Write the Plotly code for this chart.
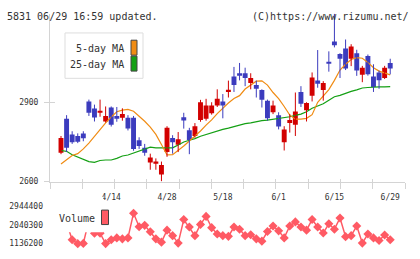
import numpy as np
import plotly.graph_objects as go

# ---------------- data ----------------
open_ = [2709, 2838, 2779, 2773, 2782, 2904, 2877, 2863, 2828, 2881,
         2849, 2842, 2842, 2842, 2757, 2728, 2672, 2670, 2627, 2712,
         2765, 2740, 2844, 2795, 2773, 2834, 2838, 2859, 2889, 2904,
         2940, 2999, 3011, 3011, 2974, 2966, 2947, 2907, 2863, 2852,
         2749, 2822, 2816, 2940, 2871, 2926, 2983, 2947, 3054, 3131,
         3084, 3105, 3066, 3087, 3005, 3076, 2999, 3014, 2993, 3050]
close = [2765, 2728, 2749, 2751, 2764, 2861, 2843, 2867, 2849, 2816,
         2838, 2856, 2801, 2724, 2735, 2709, 2691, 2676, 2663, 2804,
         2749, 2761, 2832, 2758, 2810, 2901, 2889, 2889, 2914, 2889,
         2948, 2966, 3001, 2993, 2993, 2952, 2910, 2840, 2889, 2809,
         2798, 2834, 2866, 2895, 2898, 2995, 2971, 2974, 3048, 3117,
         3066, 3029, 3112, 3021, 3032, 3007, 2959, 2984, 3032, 3029]
high = [2773, 2852, 2791, 2783, 2791, 2911, 2892, 2911, 2885, 2885,
        2883, 2878, 2852, 2849, 2768, 2743, 2706, 2688, 2676, 2810,
        2776, 2788, 2861, 2804, 2822, 2910, 2914, 2901, 2950, 2932,
        2983, 3035, 3050, 3032, 3011, 2983, 2950, 2911, 2907, 2863,
        2810, 2856, 2938, 2962, 2901, 3014, 3099, 2981, 3094, 3237,
        3087, 3139, 3121, 3100, 3039, 3082, 3045, 3021, 3039, 3066]
low = [2704, 2712, 2743, 2746, 2753, 2849, 2828, 2846, 2824, 2809,
       2827, 2831, 2794, 2717, 2724, 2698, 2645, 2645, 2601, 2694,
       2706, 2712, 2801, 2704, 2767, 2827, 2831, 2854, 2883, 2840,
       2919, 2940, 2984, 2962, 2950, 2919, 2881, 2831, 2856, 2798,
       2718, 2786, 2773, 2883, 2828, 2904, 2956, 2907, 3017, 3109,
       2993, 3023, 3038, 3001, 2977, 3002, 2940, 2952, 2989, 3007]
ma5 = [2667, 2684, 2699, 2706, 2724, 2746, 2772, 2798, 2823, 2845,
       2865, 2871, 2874, 2867, 2849, 2829, 2807, 2779, 2741, 2701,
       2702, 2717, 2735, 2754, 2772, 2792, 2814, 2834, 2858, 2880,
       2898, 2915, 2926, 2951, 2966, 2981, 2982, 2966, 2938, 2915,
       2885, 2852, 2837, 2837, 2840, 2854, 2901, 2926, 2949, 2984,
       3023, 3045, 3063, 3070, 3068, 3052, 3032, 3019, 3012, 3005]
ma25 = [2718, 2715, 2702, 2693, 2684, 2676, 2673, 2680, 2682, 2682,
        2688, 2697, 2701, 2709, 2717, 2726, 2731, 2728, 2728, 2728,
        2728, 2739, 2750, 2757, 2763, 2772, 2779, 2785, 2790, 2798,
        2803, 2809, 2816, 2820, 2823, 2828, 2831, 2833, 2836, 2840,
        2842, 2846, 2851, 2856, 2865, 2878, 2887, 2895, 2909, 2922,
        2927, 2936, 2942, 2948, 2955, 2957, 2959, 2959, 2959, 2960]
volume = [2944400, 2161000, 1320000, 1136200, 1150000, 2262000, 1633000, 1633000, 1140000, 1320000,
          1412000, 1366000, 1412000, 2589000, 1945000, 2010000, 1702000, 1366000, 1210000, 1780000,
          1518000, 1164000, 2285000, 1931000, 1518000, 2056000, 2437000, 1899000, 1596000, 1518000,
          1486000, 1931000, 1826000, 1518000, 1564000, 1366000, 1256000, 1715000, 1977000, 1748000,
          1412000, 1977000, 2175000, 1931000, 1780000, 2285000, 1931000, 1642000, 2083000, 1826000,
          2359000, 1472000, 1518000, 1977000, 1164000, 1596000, 1412000, 1288000, 1550000, 1320000]
date_tick_idx = [9, 19, 29, 39, 49, 59]
date_tick_labels = ["4/14", "4/28", "5/18", "6/1", "6/15", "6/29"]
price_ticks = [2600, 2900]
price_range = [2600, 3237]
title_text = "5831 06/29 16:59 updated."
credit_text = "(C)https://www.rizumu.net/"

# ---------------- styling ----------------
W, H = 420, 259
RED = "#d20000"
BLUE = "#3c3cbe"
ORANGE = "#f08c14"
GREEN = "#14a014"
VOLC = "#ff5a64"
AXC = "#d4d4d4"
TXT = "#333333"
FONT = "DejaVu Sans Mono"

def px_x(p):
    return p / W

def px_y(p):
    return 1 - p / H

n = len(close)
xs = list(range(n))
X0, X1 = 50, 405
C0, STEP = 61, 5.58
xr = [(X0 - C0) / STEP, (X1 - C0) / STEP]
vmin, vmax = min(volume), max(volume)
vol_ticks = [vmin, (vmin + vmax) // 2, vmax]
vol_labels = [str(v) for v in vol_ticks]

fig = go.Figure()

fig.add_trace(go.Scatter(x=xs, y=ma25, mode="lines", line=dict(color=GREEN, width=1.2),
                         xaxis="x", yaxis="y", showlegend=False, hoverinfo="skip"))
fig.add_trace(go.Scatter(x=xs, y=ma5, mode="lines", line=dict(color=ORANGE, width=1.2),
                         xaxis="x", yaxis="y", showlegend=False, hoverinfo="skip"))

for col, cond in ((RED, True), (BLUE, False)):
    wx, wy = [], []
    for i in range(n):
        if (close[i] >= open_[i]) == cond:
            wx += [i, i, None]
            wy += [low[i], high[i], None]
    fig.add_trace(go.Scatter(x=wx, y=wy, mode="lines", line=dict(color=col, width=1),
                             xaxis="x", yaxis="y", showlegend=False, hoverinfo="skip"))

body_base = [min(o, c) for o, c in zip(open_, close)]
body_h = [max(abs(c - o), 4) for o, c in zip(open_, close)]
body_col = [RED if c >= o else BLUE for o, c in zip(open_, close)]
fig.add_trace(go.Bar(x=xs, y=body_h, base=body_base, width=0.88,
                     marker=dict(color=body_col, line=dict(width=0)),
                     xaxis="x", yaxis="y", showlegend=False, hoverinfo="skip"))

fig.add_trace(go.Scatter(x=xs, y=volume, mode="lines+markers",
                         line=dict(color=VOLC, width=1.5),
                         marker=dict(symbol="diamond", size=7, color=VOLC),
                         cliponaxis=False, xaxis="x2", yaxis="y2",
                         showlegend=False, hoverinfo="skip"))

for xa, ya in (("x3", "y"), ("x4", "y"), ("x", "y3")):
    fig.add_trace(go.Scatter(x=[None], y=[None], xaxis=xa, yaxis=ya,
                             showlegend=False, hoverinfo="skip"))

xdom = [px_x(X0), px_x(X1)]
pdom = [px_y(184), px_y(10)]
vdom = [px_y(248.3), px_y(209)]
even_ticks = list(np.linspace(xr[0], xr[1], 12))

fig.update_layout(
    width=W, height=H,
    margin=dict(l=0, r=0, t=0, b=0, pad=0),
    paper_bgcolor="white", plot_bgcolor="white",
    barmode="overlay",
    font=dict(family=FONT, size=8, color=TXT),
    xaxis=dict(domain=xdom, range=xr, anchor="y", showgrid=False, zeroline=False,
               showline=True, linecolor=AXC, linewidth=1,
               tickmode="array", tickvals=even_ticks, showticklabels=False,
               ticks="outside", ticklen=6, tickcolor=AXC, tickwidth=1),
    xaxis3=dict(overlaying="x", matches="x", anchor="y", range=xr, showgrid=False,
                zeroline=False, showline=False, tickmode="array", tickvals=even_ticks,
                showticklabels=False, ticks="inside", ticklen=3, tickcolor=AXC, tickwidth=1),
    xaxis4=dict(overlaying="x", matches="x", anchor="y", range=xr, showgrid=False,
                zeroline=False, showline=False, tickmode="array", tickvals=date_tick_idx,
                ticktext=date_tick_labels, ticks="", ticklabelstandoff=9,
                tickfont=dict(family=FONT, size=8, color=TXT)),
    yaxis=dict(domain=pdom, range=price_range, anchor="x", showgrid=False, zeroline=False,
               showline=True, linecolor=AXC, linewidth=1,
               tickmode="array", tickvals=price_ticks, ticks="outside", ticklen=5,
               tickcolor=AXC, tickwidth=1, ticklabelstandoff=4,
               tickfont=dict(family=FONT, size=8, color=TXT)),
    yaxis3=dict(overlaying="y", matches="y", anchor="x", range=price_range, showgrid=False,
                zeroline=False, showline=False, tickmode="array", tickvals=price_ticks,
                ticks="inside", ticklen=5, tickcolor=AXC, showticklabels=False),
    xaxis2=dict(domain=xdom, range=xr, anchor="y2", visible=False),
    yaxis2=dict(domain=vdom, range=[vmin, vmax], anchor="x2", showgrid=False,
                zeroline=False, showline=False, tickmode="array", tickvals=vol_ticks,
                ticktext=vol_labels, ticks="", ticklabelstandoff=6,
                tickfont=dict(family=FONT, size=8, color=TXT)),
)

shapes = [
    dict(type="rect", xref="paper", yref="paper", x0=px_x(65), x1=px_x(143),
         y0=px_y(77), y1=px_y(30), line=dict(color="#dddddd", width=1),
         fillcolor="white", layer="above"),
    dict(type="rect", xref="paper", yref="paper", x0=px_x(131), x1=px_x(137),
         y0=px_y(53), y1=px_y(37.5), line=dict(color="#444444", width=1),
         fillcolor=ORANGE, layer="above"),
    dict(type="rect", xref="paper", yref="paper", x0=px_x(131), x1=px_x(137),
         y0=px_y(69.5), y1=px_y(54), line=dict(color="#444444", width=1),
         fillcolor=GREEN, layer="above"),
    dict(type="rect", xref="paper", yref="paper", x0=px_x(50), x1=px_x(103),
         y0=px_y(236.5), y1=px_y(200), line=dict(width=0),
         fillcolor="white", layer="above"),
    dict(type="rect", xref="paper", yref="paper", x0=px_x(101.5), x1=px_x(108.5),
         y0=px_y(228.5), y1=px_y(213.5), line=dict(color="#444444", width=1),
         fillcolor=VOLC, layer="above"),
]

annotations = [
    dict(text=title_text, xref="paper", yref="paper", x=px_x(5), y=px_y(13),
         xanchor="left", yanchor="middle", showarrow=False,
         font=dict(family=FONT, size=10, color=TXT)),
    dict(text=credit_text, xref="paper", yref="paper", x=px_x(411), y=px_y(13),
         xanchor="right", yanchor="middle", showarrow=False,
         font=dict(family=FONT, size=10, color=TXT)),
    dict(text="5-day MA", xref="paper", yref="paper", x=px_x(126), y=px_y(46.5),
         xanchor="right", yanchor="middle", showarrow=False,
         font=dict(family=FONT, size=10, color=TXT)),
    dict(text="25-day MA", xref="paper", yref="paper", x=px_x(126), y=px_y(63),
         xanchor="right", yanchor="middle", showarrow=False,
         font=dict(family=FONT, size=10, color=TXT)),
    dict(text="Volume", xref="paper", yref="paper", x=px_x(57), y=px_y(222),
         xanchor="left", yanchor="middle", showarrow=False,
         font=dict(family=FONT, size=10, color=TXT)),
]
fig.update_layout(shapes=shapes, annotations=annotations)

fig.write_html("out.html")
